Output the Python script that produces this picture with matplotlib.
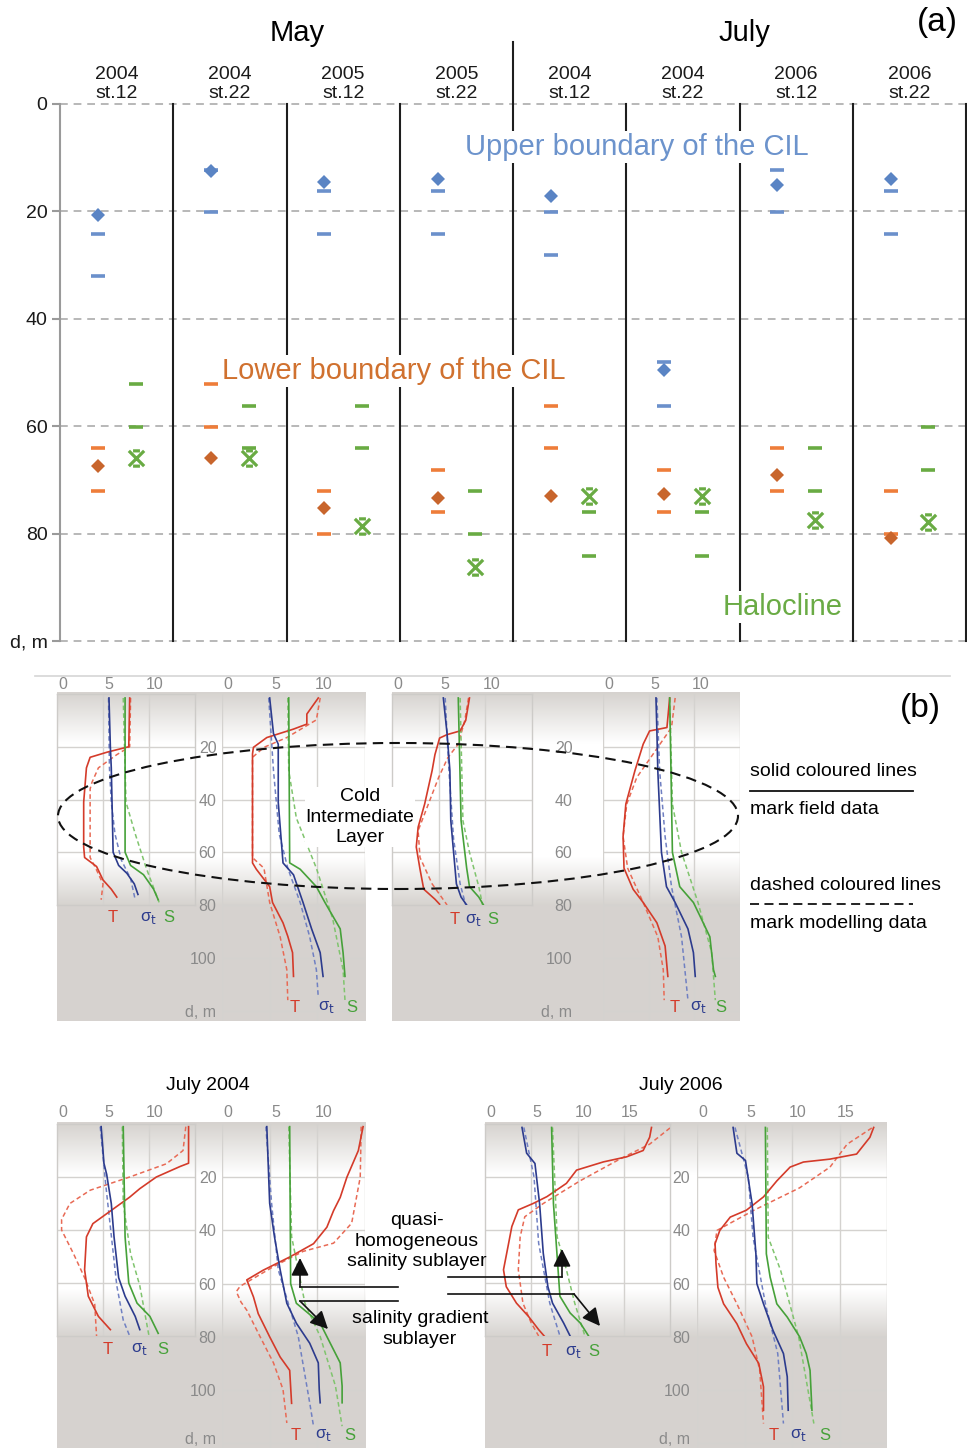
import numpy as np
import matplotlib
matplotlib.use('Agg')
import matplotlib.pyplot as plt
import matplotlib.transforms as mtrans
from matplotlib.patches import Ellipse, FancyArrowPatch
from matplotlib.lines import Line2D
from matplotlib.path import Path

plt.rcParams['font.family'] = ['Liberation Sans', 'DejaVu Sans']

# ---------------- panel (a): CIL boundaries and halocline, depth in m
columns = ['2004\nst.12', '2004\nst.22', '2005\nst.12', '2005\nst.22',
           '2004\nst.12', '2004\nst.22', '2006\nst.12', '2006\nst.22']
depth_ticks = [0, 20, 40, 60, 80, 100]
depth_tick_labels = ['0', '20', '40', '60', '80', 'd, m']

upper_mean = [20.7, 12.5, 14.6, 14.0, 17.1, 49.5, 15.1, 14.0]
upper_lim1 = [24.2, 12.2, 16.2, 16.2, 20.2, 48.1, 12.2, 16.2]
upper_lim2 = [32.0, 20.2, 24.2, 24.2, 28.1, 56.2, 20.2, 24.2]

lower_mean = [67.5, 65.9, 75.3, 73.4, 73.0, 72.6, 69.0, 80.9]
lower_lim1 = [64.1, 52.1, 72.1, 68.1, 56.2, 68.1, 64.1, 72.1]
lower_lim2 = [72.1, 60.1, 80.1, 76.0, 64.1, 76.0, 72.1, 80.1]

halo_mean = [65.9, 65.9, 78.5, 86.3, 73.0, 73.0, 77.5, 77.8]
halo_lim1 = [52.1, 56.2, 56.2, 72.1, 76.0, 76.0, 64.1, 60.1]
halo_lim2 = [60.1, 64.1, 64.1, 80.1, 84.1, 84.1, 72.1, 68.1]

# ---------------- panel (b): profiles (depth list, value list)
# T = temperature, sig = sigma-t, S = salinity; *_m = modelling (dashed)
may04_st12 = {
    'T': ([1.5, 20, 22, 24, 28, 41, 58, 62, 65.4, 70.5, 74, 77],
          [7.9, 7.8, 5.5, 3.6, 3.2, 2.9, 2.9, 3.0, 4.3, 5.0, 5.9, 6.5]),
    'T_m': ([1.5, 20, 23, 28, 33.5, 36, 62, 66, 72, 78],
            [8.0, 7.9, 6.5, 4.5, 3.8, 3.6, 3.6, 4.2, 5.0, 4.8]),
    'sig': ([1.5, 20, 28, 60, 65, 68, 72, 76],
            [5.65, 5.8, 5.9, 6.1, 6.7, 7.6, 8.4, 8.8]),
    'sig_m': ([1.5, 28, 41, 53, 63, 70, 78],
              [5.6, 5.7, 5.9, 6.3, 7.0, 8.0, 8.5]),
    'S': ([1.5, 60, 65, 68.5, 74, 78], [7.4, 7.4, 8.0, 9.4, 10.5, 11.0]),
    'S_m': ([1.5, 41, 53, 66, 79], [7.2, 7.5, 8.5, 9.7, 11.1]),
}
may04_st22 = {
    'T': ([1.5, 7.6, 11.4, 13.3, 16.5, 20.2, 22.7, 64, 66.4, 73, 79, 86.7, 91.8, 98, 107],
          [10.1, 8.9, 8.9, 7.5, 4.7, 3.3, 3.2, 3.2, 3.6, 5.0, 5.3, 6.4, 6.9, 7.4, 7.5]),
    'T_m': ([1.5, 9.8, 16.5, 20.2, 24, 62, 66, 79, 92, 104.5, 116],
            [10.3, 9.9, 6.8, 4.4, 3.2, 3.2, 4.4, 5.0, 6.1, 6.8, 6.9]),
    'sig': ([1.5, 15, 19, 41, 64, 68.5, 79, 89, 98, 107],
            [5.0, 5.4, 5.9, 5.9, 6.4, 7.5, 8.5, 9.4, 10.3, 10.6]),
    'sig_m': ([1.5, 29, 53, 66, 79, 92, 104.5, 115],
              [4.9, 5.4, 6.0, 6.9, 8.2, 9.2, 9.9, 10.1]),
    'S': ([1.5, 64, 66.4, 73, 79, 89, 98, 107],
          [7.0, 7.1, 8.2, 9.9, 10.8, 12.4, 12.7, 12.9]),
    'S_m': ([1.5, 29, 47, 66, 85, 104.5, 116],
            [6.9, 7.0, 7.8, 9.9, 11.6, 12.7, 12.9]),
}
may05_st12 = {
    'T': ([1.5, 10, 14, 15.4, 16.7, 23, 29, 41.7, 50.5, 58, 66.4, 74, 77.8, 79.7],
          [8.3, 7.9, 7.3, 5.9, 5.1, 4.6, 4.3, 3.5, 2.8, 2.6, 3.0, 3.4, 4.6, 5.1]),
    'T_m': ([1.5, 10, 19, 24, 31.6, 41.7, 51.8, 62, 72, 80],
            [8.2, 7.8, 7.1, 6.0, 5.0, 3.9, 2.8, 3.0, 4.3, 5.9]),
    'sig': ([1.5, 15, 29, 48, 60, 72, 77, 80],
            [5.5, 5.9, 6.2, 6.3, 6.6, 6.9, 7.4, 8.0]),
    'sig_m': ([1.5, 29, 55, 72, 80], [5.7, 6.1, 6.6, 7.3, 7.9]),
    'S': ([1.5, 48, 66, 73, 77, 80], [7.1, 7.4, 8.0, 8.3, 9.3, 9.8]),
    'S_m': ([1.5, 48, 60, 73, 80], [7.3, 7.6, 8.3, 9.3, 9.7]),
}
may05_st22 = {
    'T': ([1.5, 12.7, 14, 19, 29, 41.7, 54, 66, 74, 79, 86.7, 95.5, 107],
          [7.3, 7.0, 5.1, 4.4, 3.5, 2.5, 2.2, 2.3, 3.3, 4.4, 5.9, 6.8, 7.1]),
    'T_m': ([1.5, 12.7, 22.7, 31.6, 41.7, 54, 66, 79, 92, 104.5, 116],
            [7.9, 7.5, 5.5, 3.7, 2.6, 2.2, 2.7, 4.4, 6.0, 6.6, 6.7]),
    'sig': ([1.5, 14, 29, 60, 73, 79, 89, 98, 107],
            [5.8, 5.9, 6.0, 6.4, 6.95, 7.9, 9.3, 9.9, 10.1]),
    'sig_m': ([1.5, 29, 54, 73, 92, 116], [5.9, 6.2, 6.8, 7.5, 8.6, 9.3]),
    'S': ([1.5, 60, 73, 79, 84, 92, 104.5, 107],
          [7.3, 7.6, 8.4, 9.9, 10.6, 11.7, 12.1, 12.3]),
    'S_m': ([1.5, 41.7, 60, 79, 98, 116], [7.3, 7.6, 8.6, 10.4, 11.9, 12.3]),
}
jul04_st12 = {
    'T': ([1, 14.8, 16, 20, 24.4, 27.6, 32.6, 37.6, 42.6, 55, 65, 72.6, 77.6],
          [14.3, 14.3, 13.4, 10.8, 9.0, 7.9, 5.9, 3.9, 3.2, 3.0, 3.4, 4.5, 5.8]),
    'T_m': ([1, 10, 15, 20, 25, 30, 36, 40, 49, 58, 68, 80],
            [14.0, 13.7, 11.9, 7.9, 3.6, 1.4, 0.5, 0.5, 1.8, 3.0, 4.1, 4.3]),
    'sig': ([1, 14.8, 19, 30, 42.6, 58, 65, 72.6, 77.6],
            [4.8, 5.1, 5.4, 5.9, 6.2, 6.7, 7.4, 8.5, 9.0]),
    'sig_m': ([1, 23, 42, 61, 74, 80], [4.7, 5.3, 5.9, 6.5, 7.2, 7.9]),
    'S': ([1, 42.6, 60, 67.6, 72.6, 79], [7.2, 7.4, 7.8, 8.7, 10.1, 11.0]),
    'S_m': ([1, 30, 49, 61, 80], [7.1, 7.2, 8.0, 9.0, 10.0]),
}
jul04_st22 = {
    'T': ([1, 10, 20, 27.6, 32.6, 38.8, 45, 50, 55, 58.6, 65, 71.3, 80, 87.6, 92.6, 105],
          [14.8, 14.3, 13.1, 12.4, 11.7, 11.0, 9.6, 7.1, 4.3, 2.6, 3.3, 3.8, 5.0, 6.1, 7.1, 7.3]),
    'T_m': ([1, 20, 37.3, 44.8, 47.9, 53.6, 61, 63, 67, 70, 80, 89.8, 99.8, 112.4],
            [14.6, 14.5, 13.6, 11.7, 8.5, 5.4, 1.9, 1.5, 2.0, 2.6, 4.0, 5.4, 6.4, 6.8]),
    'sig': ([1, 29.8, 42.3, 54.8, 67.4, 74.9, 82.4, 89.8, 99.8, 104.8],
            [4.7, 5.0, 5.5, 6.1, 6.8, 7.8, 9.2, 10.1, 10.2, 10.3]),
    'sig_m': ([1, 29.8, 54.8, 79.9, 104.8, 113.6], [4.6, 5.2, 5.9, 8.0, 9.2, 9.6]),
    'S': ([1, 60, 67.4, 74.9, 79.9, 89.8, 98.5, 104.8],
          [7.1, 7.2, 7.8, 10.3, 11.0, 12.4, 12.6, 12.6]),
    'S_m': ([1, 42.3, 67.4, 79.9, 98.5, 113.6], [7.0, 7.3, 8.7, 10.3, 11.9, 12.6]),
}
jul06_st12 = {
    'T': ([1.3, 5, 10, 12.4, 14.3, 17.4, 22.4, 27.4, 30, 32.4, 38.7, 46, 55, 61.4, 67.6, 72.6, 77.6, 80],
          [18.0, 17.8, 17.1, 15.3, 12.8, 9.9, 8.8, 6.7, 5.2, 3.6, 2.9, 2.5, 2.0, 2.3, 3.4, 4.7, 5.8, 6.4]),
    'T_m': ([1.5, 7.6, 13.2, 21.4, 30, 35, 42.6, 55, 67.6, 75.1, 80],
            [20.0, 17.8, 14.6, 10.3, 6.3, 4.3, 3.8, 3.6, 4.1, 5.0, 5.8]),
    'sig': ([1.3, 11, 14.9, 30, 48.8, 61.4, 67.6, 75.1, 80],
            [4.0, 4.5, 5.4, 5.9, 6.3, 6.8, 7.3, 8.5, 9.2]),
    'sig_m': ([1.3, 20, 45, 67.6, 80], [4.2, 5.3, 5.8, 7.0, 8.1]),
    'S': ([1.3, 30, 55, 65, 71.3, 75.1, 80], [7.2, 7.4, 7.9, 8.1, 9.2, 10.3, 11.2]),
    'S_m': ([1.3, 42.6, 55, 67.6, 80], [7.3, 7.8, 8.8, 9.7, 10.8]),
}
jul06_st22 = {
    'T': ([1.3, 5, 11.3, 13.2, 14.3, 16.2, 21.4, 27.4, 32.4, 35, 40, 45, 52.5, 61.4, 67.6, 75.1, 82.6, 90, 98.8, 107.6],
          [18.6, 18.2, 16.8, 14.0, 11.2, 9.8, 8.4, 7.0, 5.2, 3.5, 2.4, 1.9, 2.0, 2.2, 2.8, 4.2, 5.2, 6.5, 7.0, 7.0]),
    'T_m': ([1.5, 7.6, 16.2, 24, 32.4, 40, 47.6, 57.6, 67.6, 80, 92.6, 112.6],
            [18.4, 15.8, 14.0, 10.8, 6.0, 2.1, 1.8, 2.8, 4.2, 5.8, 6.6, 7.0]),
    'sig': ([1.3, 11, 13.7, 30, 48.8, 60, 67.6, 77.6, 86.3, 95, 107.6],
            [3.8, 4.2, 5.1, 5.8, 6.2, 6.3, 7.0, 8.0, 9.1, 9.5, 9.6]),
    'sig_m': ([1.3, 20, 42.6, 67.6, 86.3, 112.6], [4.0, 5.4, 5.9, 7.2, 8.5, 9.1]),
    'S': ([1.3, 48.8, 57.6, 67.6, 72.6, 80, 86.3, 92.6, 107.6],
          [7.2, 7.3, 7.7, 8.4, 9.5, 10.8, 11.5, 11.9, 12.1]),
    'S_m': ([1.3, 42.6, 55, 80, 112.6], [7.4, 7.5, 8.8, 10.7, 12.3]),
}

# ---------------------------------------------------------------- figure
W, H = 967, 1448
fig = plt.figure(figsize=(W / 100, H / 100), dpi=100)


def rect(x0, y0, x1, y1):
    return [x0 / W, 1 - y1 / H, (x1 - x0) / W, (y1 - y0) / H]


def fp(x, y):
    return (x / W, 1 - y / H)


# ---------------- panel (a)
blue, blue_l = '#5a84c4', '#6b90cb'
orange, orange_l = '#c8652c', '#ee7d3a'
green = '#69ab43'

ax = fig.add_axes(rect(60, 104, 966, 641))
ax.set_xlim(0, 8)
ax.set_ylim(100, 0)
for d in depth_ticks:
    ax.axhline(d, color='#b8b8b8', lw=1.4, ls=(0, (4, 3)), zorder=0, clip_on=False)
for i in range(1, 9):
    ax.axvline(i, ymin=0, ymax=1.1155 if i == 4 else 1, color='#1e1e1e', lw=1.5,
               clip_on=False, zorder=1)
for s in ['top', 'right', 'bottom']:
    ax.spines[s].set_visible(False)
ax.spines['left'].set_color('#9a9a9a')
ax.spines['left'].set_linewidth(1.5)
ax.set_xticks([])
ax.set_yticks(depth_ticks, depth_tick_labels)
ax.tick_params(axis='y', length=6, width=1.5, color='#9a9a9a', labelsize=14,
               labelcolor='#1a1a1a', pad=3)

xl = np.arange(8) + 1 / 3
xr = np.arange(8) + 2 / 3

# star-like marker: X with short caps
star = Path([(-1, -1), (1, 1), (-1, 1), (1, -1), (-0.45, 1), (0.45, 1), (-0.45, -1), (0.45, -1)],
            [Path.MOVETO, Path.LINETO] * 4)

kw = dict(ls='none', zorder=3, clip_on=False)
ax.plot(xl, upper_lim1, marker='_', ms=10, mew=2.6, color=blue_l, **kw)
ax.plot(xl, upper_lim2, marker='_', ms=10, mew=2.6, color=blue_l, **kw)
ax.plot(xl, upper_mean, marker='D', ms=7, mew=0, color=blue, **kw)
ax.plot(xl, lower_lim1, marker='_', ms=10, mew=2.6, color=orange_l, **kw)
ax.plot(xl, lower_lim2, marker='_', ms=10, mew=2.6, color=orange_l, **kw)
ax.plot(xl, lower_mean, marker='D', ms=7, mew=0, color=orange, **kw)
ax.plot(xr, halo_lim1, marker='_', ms=10, mew=2.6, color=green, **kw)
ax.plot(xr, halo_lim2, marker='_', ms=10, mew=2.6, color=green, **kw)
ax.plot(xr, halo_mean, marker=star, ms=11, mew=2.3, color=green, fillstyle='none', **kw)

for i, lab in enumerate(columns):
    ax.text(i + 0.5, -0.3, lab, ha='center', va='bottom', fontsize=14,
            linespacing=1.22, color='#1a1a1a')

bb = dict(fc='white', ec='none', pad=1.5)
ax.text(3.58, 8, 'Upper boundary of the CIL', color='#6c93cc', fontsize=21,
        ha='left', va='center', bbox=bb, zorder=5)
ax.text(1.43, 49.7, 'Lower boundary of the CIL', color='#d0712f', fontsize=21,
        ha='left', va='center', bbox=bb, zorder=5)
ax.text(5.85, 93.7, 'Halocline', color='#6aab45', fontsize=21,
        ha='left', va='center', bbox=bb, zorder=5)

fig.text(*fp(297, 33), 'May', ha='center', va='center', fontsize=21)
fig.text(*fp(744, 33), 'July', ha='center', va='center', fontsize=21)
fig.text(*fp(937, 22), '(a)', ha='center', va='center', fontsize=24)

# ---------------- panel (b)
fig.add_artist(Line2D([35 / W, 950 / W], [1 - 676 / H] * 2, color='#d5d5d5', lw=1.2))
fig.text(*fp(920, 708), '(b)', ha='center', va='center', fontsize=24)

gray = np.array([0.84, 0.827, 0.812])
grid_c = '#d4d2cf'
tick_c = '#8a8a8a'
line_c = {'T': ('#d43b2a', '#e86a55'), 'sig': ('#2c3b8d', '#7080c2'), 'S': ('#46a139', '#80c46e')}
shift = mtrans.ScaledTranslation(6 / 100, 0, fig.dpi_scale_trans)


def background(x0, y0, x1, y1, y_d0, px_per_m):
    bg = fig.add_axes(rect(x0, y0, x1, y1), zorder=0)
    bg.axis('off')
    rows = np.arange(y0, y1) + 0.5
    dep = (rows - y_d0) / px_per_m
    w = np.interp(dep, [0, 19, 62, 80], [0.0, 1.0, 1.0, 0.0])
    rgb = gray[None, :] + (1 - gray[None, :]) * w[:, None]
    bg.imshow(rgb[:, None, :], aspect='auto', extent=[0, 1, 0, 1])
    bg.set_xlim(0, 1)
    bg.set_ylim(0, 1)


def profile(box, prof, xmax, dmax, framed, lab_depth, lab_x, tick_pad,
            depth_pad=None, dm_depth=None):
    x0, y0, x1, y1 = box
    a = fig.add_axes(rect(x0, y0, x1, y1), zorder=2)
    a.set_facecolor('none')
    a.set_xlim(0, xmax)
    a.set_ylim(dmax, 0)
    gl = dict(color=grid_c, lw=1.0, zorder=0)
    for v in range(0 if not framed else 5, xmax + 1, 5):
        if framed and v == xmax:
            continue
        a.axvline(v, **gl)
    for d in range(20, int(dmax) + 1, 20):
        if framed and d == dmax:
            continue
        a.axhline(d, **gl)
    xt = list(range(0, xmax, 5))
    a.xaxis.tick_top()
    a.set_xticks(xt, [str(v) for v in xt])
    a.tick_params(axis='x', length=0, pad=tick_pad, labelsize=11.5, labelcolor=tick_c)
    for lbl in a.get_xticklabels():
        lbl.set_transform(lbl.get_transform() + shift)
    if depth_pad is not None:
        yt = list(range(20, 101, 20)) + [dm_depth]
        a.set_yticks(yt, [str(v) for v in yt[:-1]] + ['d, m'])
        a.tick_params(axis='y', length=0, pad=depth_pad, labelsize=11.5, labelcolor=tick_c)
    else:
        a.set_yticks([])
    for s in a.spines.values():
        s.set_visible(framed)
        s.set_color('#cdcbc8')
        s.set_linewidth(1.0)
    for key in ['T', 'sig', 'S']:
        d, v = prof[key + '_m']
        a.plot(v, d, color=line_c[key][1], lw=1.1, ls=(0, (3, 2)), zorder=3)
        d, v = prof[key]
        a.plot(v, d, color=line_c[key][0], lw=1.2, zorder=4)
    labs = ['T', 'σ$_{\\rm t}$', 'S']
    for lab, xv, key in zip(labs, lab_x, ['T', 'sig', 'S']):
        a.text(xv, lab_depth, lab, color=line_c[key][0], fontsize=12,
               ha='center', va='center', clip_on=False)
    return a


# row 1
background(57, 692, 366, 1021, 694, 2.64)
profile((57, 694, 195, 905), may04_st12, 15, 80, True, 84.8, (6.0, 9.9, 12.1), 1.5)
profile((222, 694, 365, 1021), may04_st22, 15, 123.9, False, 118.6, (7.6, 11.0, 13.6), 1.5,
        depth_pad=4, dm_depth=120)
background(392, 692, 740, 1021, 694, 2.64)
profile((392, 694, 532, 905), may05_st12, 15, 80, True, 85.6, (6.75, 8.7, 10.8), 1.5)
profile((603, 694, 740, 1021), may05_st22, 15, 123.9, False, 118.6, (7.9, 10.4, 12.9), 1.5,
        depth_pad=22, dm_depth=120)

# row 2
background(57, 1122, 366, 1448, 1124, 2.66)
profile((57, 1124, 195, 1336), jul04_st12, 15, 80, True, 85, (5.5, 9.0, 11.5), 3)
profile((222, 1124, 365, 1448), jul04_st22, 15, 121.8, False, 117, (7.7, 10.6, 13.4), 3,
        depth_pad=4, dm_depth=118)
background(485, 1122, 887, 1448, 1124, 2.66)
profile((485, 1124, 670, 1336), jul06_st12, 20, 80, True, 86, (6.7, 9.6, 11.8), 3)
profile((697, 1124, 887, 1448), jul06_st22, 20, 121.8, False, 117, (8.1, 10.7, 13.4), 3,
        depth_pad=5, dm_depth=118)

# ellipse around the CIL
fig.add_artist(Ellipse(fp(398, 816), 680 / W, 146 / H, transform=fig.transFigure,
                       fill=False, ec='#111111', lw=1.5, ls=(0, (5, 3)), zorder=10))
fig.text(*fp(360, 817), 'Cold\nIntermediate\nLayer', ha='center', va='center',
         fontsize=14, linespacing=1.25, zorder=11,
         bbox=dict(fc='white', ec='none', pad=0.5))

# notes on the right
fig.text(*fp(750, 772), 'solid coloured lines', ha='left', va='center', fontsize=14)
fig.add_artist(Line2D([750 / W, 913 / W], [1 - 791 / H] * 2, color='#111111', lw=1.3))
fig.text(*fp(750, 810), 'mark field data', ha='left', va='center', fontsize=14)
fig.text(*fp(750, 885), 'dashed coloured lines', ha='left', va='center', fontsize=14)
fig.add_artist(Line2D([750 / W, 913 / W], [1 - 904 / H] * 2, color='#111111', lw=1.3,
                      ls=(0, (5, 3))))
fig.text(*fp(750, 923), 'mark modelling data', ha='left', va='center', fontsize=14)

fig.text(*fp(208, 1085), 'July 2004', ha='center', va='center', fontsize=14)
fig.text(*fp(681, 1085), 'July 2006', ha='center', va='center', fontsize=14)

fig.text(*fp(417, 1241), 'quasi-\nhomogeneous\nsalinity sublayer', ha='center',
         va='center', fontsize=14, linespacing=1.25, zorder=11)
fig.text(*fp(420, 1329), 'salinity gradient\nsublayer', ha='center', va='center',
         fontsize=14, linespacing=1.25, zorder=11)


def arrow(points, tip):
    xs = [p[0] / W for p in points]
    ys = [1 - p[1] / H for p in points]
    fig.add_artist(Line2D(xs, ys, color='#111111', lw=1.2, zorder=12))
    fig.add_artist(FancyArrowPatch(fp(*points[-1]), fp(*tip), transform=fig.transFigure,
                                   arrowstyle='-|>,head_length=0.9,head_width=0.45',
                                   mutation_scale=12, color='#111111', lw=1.2,
                                   shrinkA=0, shrinkB=0, zorder=12))


arrow([(398, 1287), (300, 1287)], (300, 1258))
arrow([(398, 1301), (300, 1301)], (328, 1329))
arrow([(448, 1277), (562, 1277)], (562, 1249))
arrow([(448, 1294), (574, 1294)], (600, 1326))

fig.savefig('out.png', dpi=100)
